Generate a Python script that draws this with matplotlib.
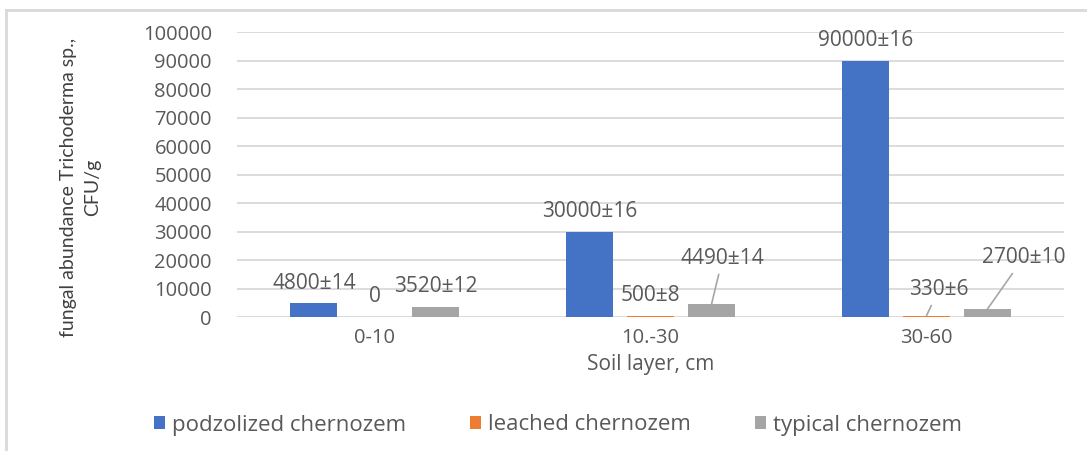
import matplotlib.pyplot as plt
import numpy as np

# Soil layers and fungal counts (CFU/g) for each chernozem type
layers = ["0-10", "10.-30", "30-60"]
podzolized = [4800, 30000, 90000]
podzolized_err = [14, 16, 16]
leached = [0, 500, 330]
leached_err = [None, 8, 6]
typical = [3520, 4490, 2700]
typical_err = [12, 14, 10]

series_names = ["podzolized chernozem", "leached chernozem", "typical chernozem"]
colors = ["#4472c4", "#ed7d31", "#a5a5a5"]

# labels pulled away from the bar with a leader line: (series, layer) -> offset in points
moved = {(2, 1): (8, 33), (1, 2): (9, 19), (2, 2): (26, 37)}

txt = "#595959"
plt.rcParams['font.family'] = ['Open Sans', 'DejaVu Sans']

fig = plt.figure(figsize=(10.87, 4.51), dpi=100)
ax = fig.add_axes([0.218, 0.2971, 0.761, 0.631])

x = np.arange(len(layers))
width = 0.17
step = 0.221

all_vals = [podzolized, leached, typical]
all_errs = [podzolized_err, leached_err, typical_err]

for i, (vals, errs) in enumerate(zip(all_vals, all_errs)):
    pos = x + (i - 1) * step
    ax.bar(pos, vals, width, color=colors[i], label=series_names[i], zorder=3)
    for j, (p, v, e) in enumerate(zip(pos, vals, errs)):
        label = f"{v}" if e is None else f"{v}\u00b1{e}"
        if (i, j) in moved:
            dx, dy = moved[(i, j)]
            ax.annotate(label, xy=(p, v), xytext=(dx, dy), textcoords="offset points",
                        ha="center", va="center", fontsize=15, color=txt,
                        arrowprops=dict(arrowstyle="-", color="#a6a6a6", lw=1.2,
                                        shrinkA=2, shrinkB=0))
        else:
            ax.annotate(label, xy=(p, v), xytext=(0, 14.5), textcoords="offset points",
                        ha="center", va="center", fontsize=15, color=txt)

ax.set_xlim(-0.5, 2.5)
ax.set_ylim(0, 100000)
ax.set_yticks(np.arange(0, 100001, 10000))
ax.set_xticks(x)
ax.set_xticklabels(layers)
ax.yaxis.grid(True, color="#d9d9d9", lw=1.3, zorder=0)
ax.set_axisbelow(True)
for s in ax.spines.values():
    s.set_visible(False)
ax.tick_params(axis="both", length=0, colors=txt, labelsize=14.5)
ax.tick_params(axis="y", pad=18)
ax.tick_params(axis="x", pad=8)
ax.set_xlabel("Soil layer, cm", fontsize=15, color=txt, labelpad=4)

fig.text(81 / 1087, 1 - 187 / 451, "fungal abundance Trichoderma sp.,\nCFU/g",
         rotation=90, ha="center", va="center", multialignment="center",
         fontsize=14, color="#404040", linespacing=1.5,
         family=["Lato", "DejaVu Sans"])

fig.legend(loc="center", bbox_to_anchor=(558 / 1087, 1 - 425 / 451), ncol=3,
           frameon=False, fontsize=16, labelcolor=txt, handlelength=0.5,
           handleheight=0.5, handletextpad=0.3, columnspacing=2.9)

# chart frame: left and top edges only
fig.add_artist(plt.Line2D([6 / 1087, 6 / 1087], [0, 1 - 10 / 451], color="#d9d9d9", lw=2))
fig.add_artist(plt.Line2D([6 / 1087, 1], [1 - 10 / 451, 1 - 10 / 451], color="#d9d9d9", lw=2))

fig.savefig("out.png", dpi=100)
